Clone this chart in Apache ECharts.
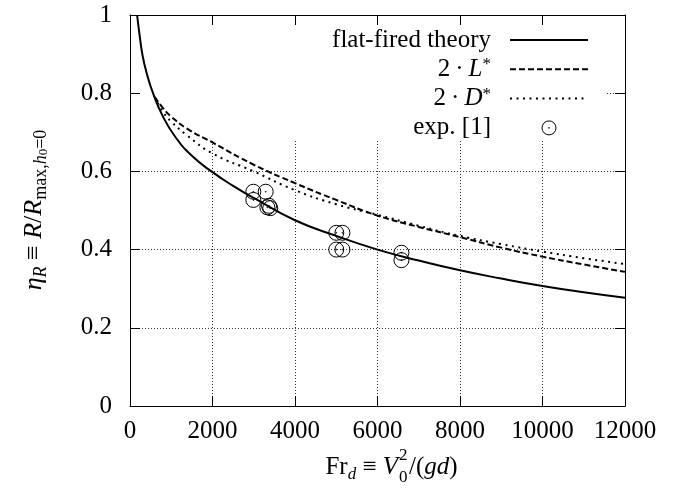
<!DOCTYPE html>
<html><head><meta charset="utf-8">
<script src="https://cdn.jsdelivr.net/npm/echarts@6/dist/echarts.min.js"></script>
<style>html,body{margin:0;padding:0;background:#fff}#c{width:685px;height:497px}</style>
</head><body><div id="c"></div>
<script>
// ---- data ----
const xTicks = [0, 2000, 4000, 6000, 8000, 10000, 12000];
const yTicks = [0, 0.2, 0.4, 0.6, 0.8, 1];

const theoryFr  = [172, 240, 307, 400, 558, 800, 1100, 1500, 2000, 2500, 3000, 4000, 5000, 6000, 7000, 8000, 9000, 10000, 11000, 12000];
const theoryEta = [1.0, 0.943, 0.895, 0.853, 0.80, 0.740, 0.688, 0.640, 0.598, 0.563, 0.532, 0.475, 0.435, 0.400, 0.372, 0.347, 0.326, 0.307, 0.291, 0.277];

const lStarFr  = [600, 800, 1000, 1374, 2000, 3000, 4000, 5000, 6000, 7000, 8000, 9000, 10000, 11000, 12000];
const lStarEta = [0.79, 0.762, 0.740, 0.710, 0.674, 0.617, 0.570, 0.527, 0.487, 0.458, 0.432, 0.405, 0.382, 0.362, 0.343];

const dStarFr  = [600, 800, 1000, 1374, 2000, 3000, 4000, 5000, 6000, 7000, 8000, 9000, 10000, 11000, 12000];
const dStarEta = [0.79, 0.752, 0.727, 0.693, 0.646, 0.600, 0.552, 0.516, 0.489, 0.461, 0.435, 0.414, 0.395, 0.378, 0.363];

const expFr  = [2990, 3290, 2990, 3330, 3400, 3370, 5000, 5150, 5000, 5150, 6580, 6580];
const expEta = [0.548, 0.548, 0.527, 0.508, 0.506, 0.512, 0.443, 0.443, 0.400, 0.400, 0.392, 0.373];

const seriesNames = ['flat-fired theory', '2·L*', '2·D*', 'exp. [1]'];
// ---------------------------------------

const F = '"Liberation Serif", "Times New Roman", serif';
const FS = 25;
const zip = (a, b) => a.map((v, i) => [v, b[i]]);
const circleDot = 'path://M0,-10A10,10,0,1,1,0,10A10,10,0,1,1,0,-10ZM0,-0.6A0.6,0.6,0,1,1,0,0.6A0.6,0.6,0,1,1,0,-0.6Z';

const gridBox = {left: 130, top: 15, right: 60, bottom: 91};
const xMin = xTicks[0], xMax = xTicks[xTicks.length - 1], xInt = xTicks[1] - xTicks[0];
const yMin = yTicks[0], yMax = yTicks[yTicks.length - 1], yInt = yTicks[1] - yTicks[0];

const gridLine = {show: true, lineStyle: {color: '#333', width: 1, type: [1, 2]}};
const frameLine = {show: true, onZero: false, lineStyle: {color: '#000', width: 1}};
const tickIn = {show: true, inside: true, length: 10, lineStyle: {color: '#000', width: 1}};
const plain = v => String(v);

const legendLabels = {
  'flat-fired theory': 'flat-fired theory',
  '2·L*': '2\u2009·\u2009{i|L}{sup|*}',
  '2·D*': '2\u2009·\u2009{i|D}{sup|*}',
  'exp. [1]': 'exp. [1]'
};
const noDot = {color: 'rgba(0,0,0,0)', borderWidth: 0, borderColor: 'rgba(0,0,0,0)'};

const chart = echarts.init(document.getElementById('c'), null, {renderer: 'canvas'});
chart.setOption({
  animation: false,
  backgroundColor: '#fff',
  grid: [
    Object.assign({}, gridBox),
    Object.assign({}, gridBox)
  ],
  xAxis: [
    {gridIndex: 0, type: 'value', min: xMin, max: xMax, interval: xInt, z: 0,
     axisLine: {show: false}, axisTick: {show: false}, axisLabel: {show: false}, splitLine: gridLine},
    {gridIndex: 1, type: 'value', position: 'bottom', min: xMin, max: xMax, interval: xInt, z: 3,
     axisLine: frameLine, axisTick: tickIn, splitLine: {show: false},
     axisLabel: {show: true, margin: 13, color: '#000', fontFamily: F, fontSize: FS, formatter: plain}},
    {gridIndex: 1, type: 'value', position: 'top', min: xMin, max: xMax, interval: xInt, z: 3,
     axisLine: frameLine, axisTick: tickIn, splitLine: {show: false}, axisLabel: {show: false}}
  ],
  yAxis: [
    {gridIndex: 0, type: 'value', min: yMin, max: yMax, interval: yInt, z: 0,
     axisLine: {show: false}, axisTick: {show: false}, axisLabel: {show: false}, splitLine: gridLine},
    {gridIndex: 1, type: 'value', position: 'left', min: yMin, max: yMax, interval: yInt, z: 3,
     axisLine: frameLine, axisTick: tickIn, splitLine: {show: false},
     axisLabel: {show: true, margin: 18, color: '#000', fontFamily: F, fontSize: FS, formatter: plain}},
    {gridIndex: 1, type: 'value', position: 'right', min: yMin, max: yMax, interval: yInt, z: 3,
     axisLine: frameLine, axisTick: tickIn, splitLine: {show: false}, axisLabel: {show: false}}
  ],
  legend: {
    orient: 'vertical',
    right: 96, top: 27,
    padding: 0,
    align: 'right',
    itemWidth: 78, itemHeight: 14, itemGap: 3.3,
    selectedMode: false,
    data: [
      {name: seriesNames[0], itemStyle: noDot},
      {name: seriesNames[1], itemStyle: noDot},
      {name: seriesNames[2], itemStyle: noDot},
      {name: seriesNames[3], icon: circleDot, itemStyle: {color: 'rgba(0,0,0,0)', borderColor: '#000', borderWidth: 1}}
    ],
    formatter: name => legendLabels[name],
    textStyle: {
      color: '#000', fontFamily: F, fontSize: FS, lineHeight: 26, padding: [0, 14, 0, 0],
      rich: {
        i: {fontFamily: F, fontSize: FS, fontStyle: 'italic', color: '#000'},
        sup: {fontFamily: F, fontSize: 17, color: '#000', verticalAlign: 'top', lineHeight: 14}
      }
    }
  },
  graphic: [
    {type: 'rect', z: 1, silent: true, shape: {x: 131, y: 16, width: 475, height: 124}, style: {fill: '#fff'}},
    {type: 'text', z: 5, x: 34, y: 210, rotation: Math.PI / 2,
     style: {
       x: 0, y: 0, align: 'center', verticalAlign: 'middle', fill: '#000',
       fontFamily: F, fontSize: 26,
       text: '{i|η}{si|R} ≡ {i|R}/{i|R}{s|max,}{si|h}{ss|0}{s|=0}',
       rich: {
         i: {fontFamily: F, fontSize: 26, fontStyle: 'italic', lineHeight: 32},
         s: {fontFamily: F, fontSize: 18, verticalAlign: 'bottom', lineHeight: 12},
         si: {fontFamily: F, fontSize: 18, fontStyle: 'italic', verticalAlign: 'bottom', lineHeight: 12},
         ss: {fontFamily: F, fontSize: 13, verticalAlign: 'bottom', lineHeight: 4}
       }
     }},
    {type: 'text', z: 5, x: 398, y: 467,
     style: {
       x: 0, y: 0, align: 'right', verticalAlign: 'middle', fill: '#000',
       fontFamily: F, fontSize: FS,
       text: 'Fr{si|d} ≡ {i|V}',
       rich: {
         i: {fontFamily: F, fontSize: FS, fontStyle: 'italic', lineHeight: 32},
         si: {fontFamily: F, fontSize: 17, fontStyle: 'italic', verticalAlign: 'bottom', lineHeight: 12}
       }
     }},
    {type: 'text', z: 5, x: 399, y: 456,
     style: {x: 0, y: 0, align: 'left', verticalAlign: 'middle', fill: '#000', fontFamily: F, fontSize: 17, text: '2'}},
    {type: 'text', z: 5, x: 399, y: 478,
     style: {x: 0, y: 0, align: 'left', verticalAlign: 'middle', fill: '#000', fontFamily: F, fontSize: 17, text: '0'}},
    {type: 'text', z: 5, x: 409, y: 467,
     style: {
       x: 0, y: 0, align: 'left', verticalAlign: 'middle', fill: '#000',
       fontFamily: F, fontSize: FS,
       text: '/({i|gd})',
       rich: {i: {fontFamily: F, fontSize: FS, fontStyle: 'italic'}}
     }}
  ],
  series: [
    {name: seriesNames[0], type: 'line', xAxisIndex: 1, yAxisIndex: 1, z: 2,
     smooth: 0.5,
     symbol: 'none', clip: true, data: zip(theoryFr, theoryEta),
     itemStyle: {color: '#000'}, lineStyle: {color: '#000', width: 2, type: 'solid'}},
    {name: seriesNames[1], type: 'line', xAxisIndex: 1, yAxisIndex: 1, z: 2,
     smooth: 0.5,
     symbol: 'none', clip: true, data: zip(lStarFr, lStarEta),
     itemStyle: {color: '#000'}, lineStyle: {color: '#000', width: 2, type: [6, 3]}},
    {name: seriesNames[2], type: 'line', xAxisIndex: 1, yAxisIndex: 1, z: 2,
     smooth: 0.5,
     symbol: 'none', clip: true, data: zip(dStarFr, dStarEta),
     itemStyle: {color: '#000'}, lineStyle: {color: '#000', width: 2, type: [2, 4.5]}},
    {name: seriesNames[3], type: 'scatter', xAxisIndex: 1, yAxisIndex: 1, z: 2,
     symbol: circleDot, symbolSize: 15, symbolKeepAspect: true, data: zip(expFr, expEta),
     itemStyle: {color: 'rgba(0,0,0,0)', borderColor: '#000', borderWidth: 1, opacity: 1}}
  ]
});
</script>
</body></html>
